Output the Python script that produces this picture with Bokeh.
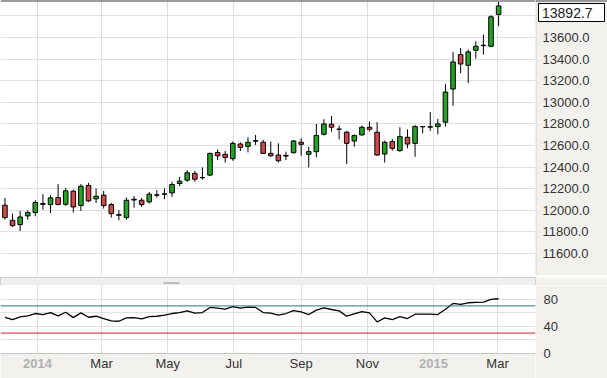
import pandas as pd
from bokeh.plotting import figure
from bokeh.layouts import column, row
from bokeh.models import (Range1d, FixedTicker, Span, BoxAnnotation,
                          ColumnDataSource)
from bokeh.core.properties import value
from bokeh.embed import file_html
from bokeh.resources import INLINE

# ---------------- data ----------------
weeks = pd.date_range("2013-12-02", periods=66, freq="7D")

opens = [12047, 11907, 11867, 11948, 11979, 12055, 12053, 12118, 12056, 12177,
         12044, 12230, 12106, 12140, 12053, 11960, 11932, 12095, 12093, 12078,
         12140, 12149, 12161, 12248, 12279, 12341, 12301, 12326, 12536, 12518,
         12478, 12614, 12592, 12640, 12630, 12527, 12512, 12502, 12533, 12630,
         12518, 12543, 12704, 12797, 12752, 12723, 12642, 12698, 12769, 12723,
         12521, 12636, 12552, 12676, 12620, 12773, 12770, 12775, 12816, 13123,
         13442, 13343, 13482, 13525, 13519, 13814]
highs = [12115, 11969, 11994, 12000, 12093, 12149, 12140, 12242, 12208, 12192,
         12242, 12254, 12202, 12180, 12068, 12000, 12118, 12132, 12115, 12170,
         12186, 12202, 12264, 12310, 12372, 12366, 12397, 12533, 12564, 12549,
         12636, 12629, 12676, 12698, 12651, 12636, 12620, 12543, 12651, 12667,
         12589, 12800, 12843, 12874, 12785, 12735, 12704, 12785, 12822, 12816,
         12645, 12661, 12769, 12750, 12791, 12782, 12909, 12847, 13169, 13467,
         13504, 13488, 13566, 13628, 13805, 13929]
lows = [11913, 11845, 11808, 11913, 11944, 12006, 11975, 12047, 12040, 11979,
        11994, 12078, 12068, 12016, 11932, 11907, 11913, 12025, 12031, 12062,
        12118, 12102, 12124, 12223, 12264, 12264, 12285, 12316, 12465, 12443,
        12459, 12549, 12536, 12605, 12521, 12496, 12443, 12465, 12527, 12505,
        12397, 12490, 12692, 12729, 12657, 12428, 12589, 12692, 12729, 12505,
        12443, 12552, 12543, 12574, 12496, 12713, 12735, 12704, 12775, 12968,
        13271, 13178, 13405, 13442, 13510, 13705]
closes = [11932, 11858, 11938, 11979, 12072, 12062, 12115, 12053, 12180, 12031,
          12223, 12087, 12130, 12044, 11969, 11954, 12093, 12102, 12053, 12149,
          12143, 12152, 12239, 12270, 12347, 12288, 12304, 12527, 12505, 12490,
          12620, 12583, 12629, 12645, 12527, 12505, 12459, 12508, 12642, 12611,
          12543, 12692, 12800, 12769, 12750, 12620, 12692, 12769, 12750, 12512,
          12630, 12574, 12682, 12614, 12775, 12775, 12774, 12800, 13095, 13374,
          13355, 13467, 13519, 13529, 13792, 13892.7]
rsi = [53.3, 49.9, 53.8, 55.3, 58.8, 57.3, 60.2, 55.3, 60.7, 52.8,
       59.7, 53.3, 54.8, 51.4, 47.9, 47.4, 52.4, 52.8, 50.9, 54.3,
       54.8, 56.3, 58.8, 60.2, 62.7, 59.3, 60.2, 67.7, 66.7, 65.2,
       69.1, 66.7, 68.2, 67.7, 60.2, 59.3, 56.3, 58.8, 63.2, 61.2,
       57.3, 63.7, 67.2, 64.7, 62.7, 54.8, 58.3, 61.7, 59.7, 46.4,
       52.4, 49.9, 54.3, 51.4, 57.8, 57.8, 57.8, 57.3, 65.2, 73.6,
       72.1, 74.6, 75.1, 75.6, 79.5, 80.5]

price_ticks = [11600, 11800, 12000, 12200, 12400, 12600, 12800, 13000, 13200,
               13400, 13600, 13800]
rsi_ticks = [0, 40, 80]
rsi_grid = [20, 40, 60, 80]
rsi_upper, rsi_lower = 70, 30
month_dates = ["2014-03-01", "2014-05-01", "2014-07-01", "2014-09-01",
               "2014-11-01", "2015-03-01"]
month_labels = ["Mar", "May", "Jul", "Sep", "Nov", "Mar"]
year_dates = ["2014-01-01", "2015-01-01"]
year_labels = ["2014", "2015"]
last_price = 13892.7

# ---------------- style ----------------
FONT = value("Liberation Sans")
GREEN = "#25a325"
RED = "#d14848"
PANEL = "#f3f1ee"
GRID = "#dedede"
TXT = "#333333"

def ms(t):
    return pd.Timestamp(t).value // 10**6

grid_ms = sorted(ms(d) for d in month_dates + year_dates)
x_start = pd.Timestamp("2014-01-01") - pd.Timedelta(days=34.1)
x_end = x_start + pd.Timedelta(days=493.1)
xr = Range1d(start=ms(x_start), end=ms(x_end))
yr = Range1d(11396, 13943)

src = ColumnDataSource(dict(
    date=list(weeks),
    open=opens, high=highs, low=lows, close=closes,
    top=[max(o, c) for o, c in zip(opens, closes)],
    bottom=[min(o, c) for o, c in zip(opens, closes)],
    color=[GREEN if c >= o else RED for o, c in zip(opens, closes)],
))
body_w = 4.2 * 24 * 3600 * 1000

def base(width, height, **kw):
    p = figure(width=width, height=height, toolbar_location=None,
               output_backend="svg", min_border_left=0, min_border_right=0,
               min_border_top=0, min_border_bottom=0, **kw)
    p.border_fill_color = PANEL
    p.outline_line_color = None
    return p

# ---------------- price panel ----------------
pA = base(535, 275, x_axis_type="datetime", x_range=xr, y_range=yr,
          x_axis_location=None, y_axis_location=None)
pA.background_fill_color = "white"
pA.xgrid.ticker = FixedTicker(ticks=grid_ms)
pA.ygrid.ticker = FixedTicker(ticks=price_ticks)
pA.grid.grid_line_color = GRID
pA.segment(x0="date", y0="high", x1="date", y1="low", source=src,
           line_color="black", line_width=1)
pA.vbar(x="date", width=body_w, top="top", bottom="bottom", source=src,
        fill_color="color", line_color="black", line_width=1)
pA.add_layout(Span(location=yr.end, dimension="width", line_color="#3a3a3a",
                   line_width=2))

# price scale column (right)
pAr = base(72, 275, x_range=Range1d(0, 72), y_range=yr,
           x_axis_location=None, y_axis_location=None)
pAr.background_fill_color = PANEL
pAr.grid.visible = False
pAr.add_layout(Span(location=0.5, dimension="height", line_color="#d2d2d2",
                    line_width=1))
pAr.add_layout(Span(location=yr.end, dimension="width", line_color="#3a3a3a",
                    line_width=2))
pAr.text(x=[7] * len(price_ticks), y=price_ticks,
         text=[f"{t:.1f}" for t in price_ticks], text_font=FONT,
         text_font_size="13px", text_color=TXT, text_align="left",
         text_baseline="middle")
px_per_unit = 275 / (yr.end - yr.start)
box_y = min(last_price, yr.end - 12 / px_per_unit)
pAr.rect(x=[36], y=[box_y], width=66, height=18, width_units="screen",
         height_units="screen", fill_color="white", line_color="black",
         line_width=1)
pAr.text(x=[6.5], y=[box_y], text=[f"{last_price:.1f}"], text_font=FONT,
         text_font_size="14px", text_color="#222222", text_align="left",
         text_baseline="middle")

# ---------------- separator strip ----------------
pB = base(607, 10, x_range=Range1d(0, 535), y_range=Range1d(0, 10),
          x_axis_location=None, y_axis_location=None)
pB.min_border_right = 72
pB.background_fill_color = "#efefef"
pB.outline_line_color = "#cfcfcf"
pB.grid.visible = False
pB.segment(x0=[163, 163], y0=[4.5, 1.5], x1=[179, 179], y1=[4.5, 1.5],
           line_color="#8a8a8a", line_width=1)

# ---------------- RSI panel (+ date labels band) ----------------
rsi_px = 68 / 100.0
pC = base(607, 93, x_axis_type="datetime", x_range=xr,
          y_range=Range1d(-25 / rsi_px, 100), x_axis_location=None,
          y_axis_location="right")
pC.min_border_right = 72
pC.background_fill_color = "white"
pC.xgrid.ticker = FixedTicker(ticks=grid_ms)
pC.ygrid.ticker = FixedTicker(ticks=rsi_grid)
pC.grid.grid_line_color = GRID

ry = pC.yaxis[0]
ry.ticker = FixedTicker(ticks=rsi_ticks)
ry.major_tick_line_color = None
ry.minor_tick_line_color = None
ry.major_tick_out = 0
ry.major_tick_in = 0
ry.axis_line_color = None
ry.major_label_text_font = "Liberation Sans"
ry.major_label_text_font_size = "13px"
ry.major_label_text_color = TXT
ry.major_label_standoff = 8

# bottom band for date labels
pC.add_layout(BoxAnnotation(top=0, fill_color=PANEL, fill_alpha=1,
                            line_color=None, level="underlay"))
pC.add_layout(Span(location=0, dimension="width", line_color="#c4c4c4",
                   line_width=1))
pC.add_layout(Span(location=rsi_upper, dimension="width",
                   line_color="#2a7384", line_width=1))
pC.add_layout(Span(location=rsi_lower, dimension="width",
                   line_color="#c8202a", line_width=1))
pC.line(x=list(weeks), y=rsi, line_color="black", line_width=1.3)

lab_y = -10 / rsi_px
pC.text(x=[pd.Timestamp(d) for d in month_dates], y=[lab_y] * len(month_dates),
        text=month_labels, text_font=FONT, text_font_size="13px",
        text_color=TXT, text_align="center", text_baseline="middle")
pC.text(x=[pd.Timestamp(d) for d in year_dates], y=[lab_y] * len(year_dates),
        text=year_labels, text_font=FONT, text_font_size="13px",
        text_font_style="bold", text_color="#b0b0b0", text_align="center",
        text_baseline="middle")

layout = column(row(pA, pAr, spacing=0), pB, pC, spacing=0)
open("out.html", "w").write(file_html(layout, INLINE))
